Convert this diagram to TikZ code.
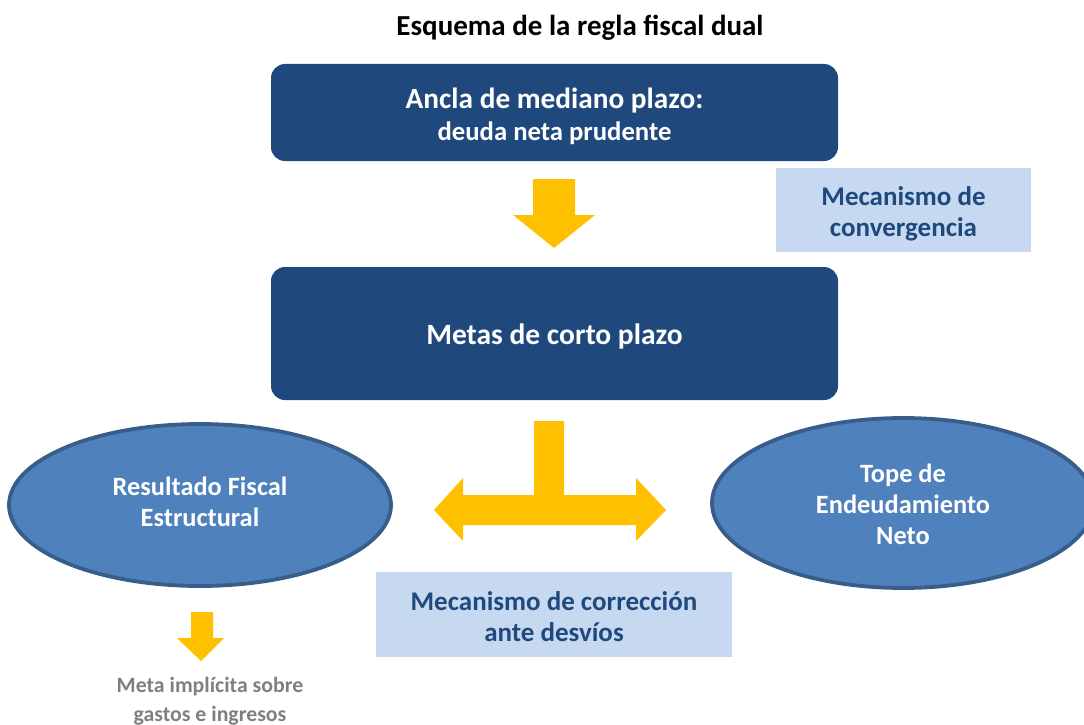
\documentclass[tikz,border=0pt]{standalone}
\usepackage{fontspec}
\setmainfont{Carlito}
\usetikzlibrary{shapes.geometric}
\definecolor{darkbox}{HTML}{1F497D}
\definecolor{lightbox}{HTML}{C6D9F1}
\definecolor{ellfill}{HTML}{4F81BD}
\definecolor{elldraw}{HTML}{385D8A}
\definecolor{arrowy}{HTML}{FFC000}
\definecolor{greytxt}{HTML}{7F7F7F}
\tikzset{
  mainbox/.style={rectangle, rounded corners=14pt, fill=darkbox, minimum width=567pt, inner sep=0pt},
  softbox/.style={rectangle, fill=lightbox, inner sep=0pt},
  softtxt/.style={text=darkbox, font=\bfseries\fontsize{27}{31}\selectfont, align=center, inner sep=0pt},
  maintxt/.style={text=white, align=center, inner sep=0pt},
  oval/.style={ellipse, fill=ellfill, draw=elldraw, line width=3.8pt, inner sep=0pt},
  ovaltxt/.style={text=white, font=\bfseries\fontsize{26.4}{31}\selectfont, align=center, inner sep=0pt},
  blockarrow/.style={fill=arrowy, draw=none},
}
\begin{document}
\begin{tikzpicture}[x=1pt,y=-1pt]
\useasboundingbox (0,0) rectangle (1084,725);
\clip (0,0) rectangle (1084,725);
\node[font=\bfseries\fontsize{29}{34}\selectfont] (title) at (580,28) {Esquema de la regla fiscal dual};
% boxes
\node[mainbox, minimum height=97pt] (ancla) at (554.5,112.5) {};
\node[mainbox, minimum height=133pt] (metas) at (554.5,333.5) {};
\node[softbox, minimum width=255pt, minimum height=84pt] (conv) at (903.5,210) {};
\node[softbox, minimum width=356pt, minimum height=85pt] (corr) at (554,614.5) {};
\node[oval, minimum width=382pt, minimum height=162pt] (rfe) at (200,505) {};
\node[oval, minimum width=382pt, minimum height=170pt] (ten) at (903,503) {};
% texts
\node[maintxt, font=\bfseries\fontsize{29.3}{31}\selectfont] (anclatxt) at ([yshift=-4pt]ancla.center) {Ancla de mediano plazo:\\[1pt]{\fontsize{26.7}{31}\selectfont deuda neta prudente}};
\node[maintxt, font=\bfseries\fontsize{29.5}{31}\selectfont] (metastxt) at ([yshift=-3pt]metas.center) {Metas de corto plazo};
\node[softtxt] (convtxt) at ([yshift=-4pt]conv.center) {Mecanismo de\\convergencia};
\node[softtxt] (corrtxt) at ([yshift=-2pt]corr.center) {Mecanismo de corrección\\ante desvíos};
\node[ovaltxt] (rfetxt) at ([yshift=3pt]rfe.center) {Resultado Fiscal\\Estructural};
\node[ovaltxt] (tentxt) at ([yshift=-1pt]ten.center) {Tope de\\Endeudamiento\\Neto};
\node[text=greytxt, font=\bfseries\fontsize{21.8}{29}\selectfont, align=center] (meta) at (210,701) {Meta implícita sobre\\gastos e ingresos};
% arrows
\fill[blockarrow] (533,179) -- (575,179) -- (575,215) -- (595,215) -- (554,248) -- (513,215) -- (533,215) -- cycle;
\fill[blockarrow] (534,421) -- (564,421) -- (564,495) -- (636,495) -- (636,478) -- (666,510) -- (636,541) -- (636,525) -- (463,525) -- (463,541) -- (434,510) -- (463,478) -- (463,495) -- (534,495) -- cycle;
\fill[blockarrow] (191,612) -- (213,612) -- (213,638) -- (224,638) -- (201,661) -- (177,638) -- (191,638) -- cycle;
\end{tikzpicture}
\end{document}
